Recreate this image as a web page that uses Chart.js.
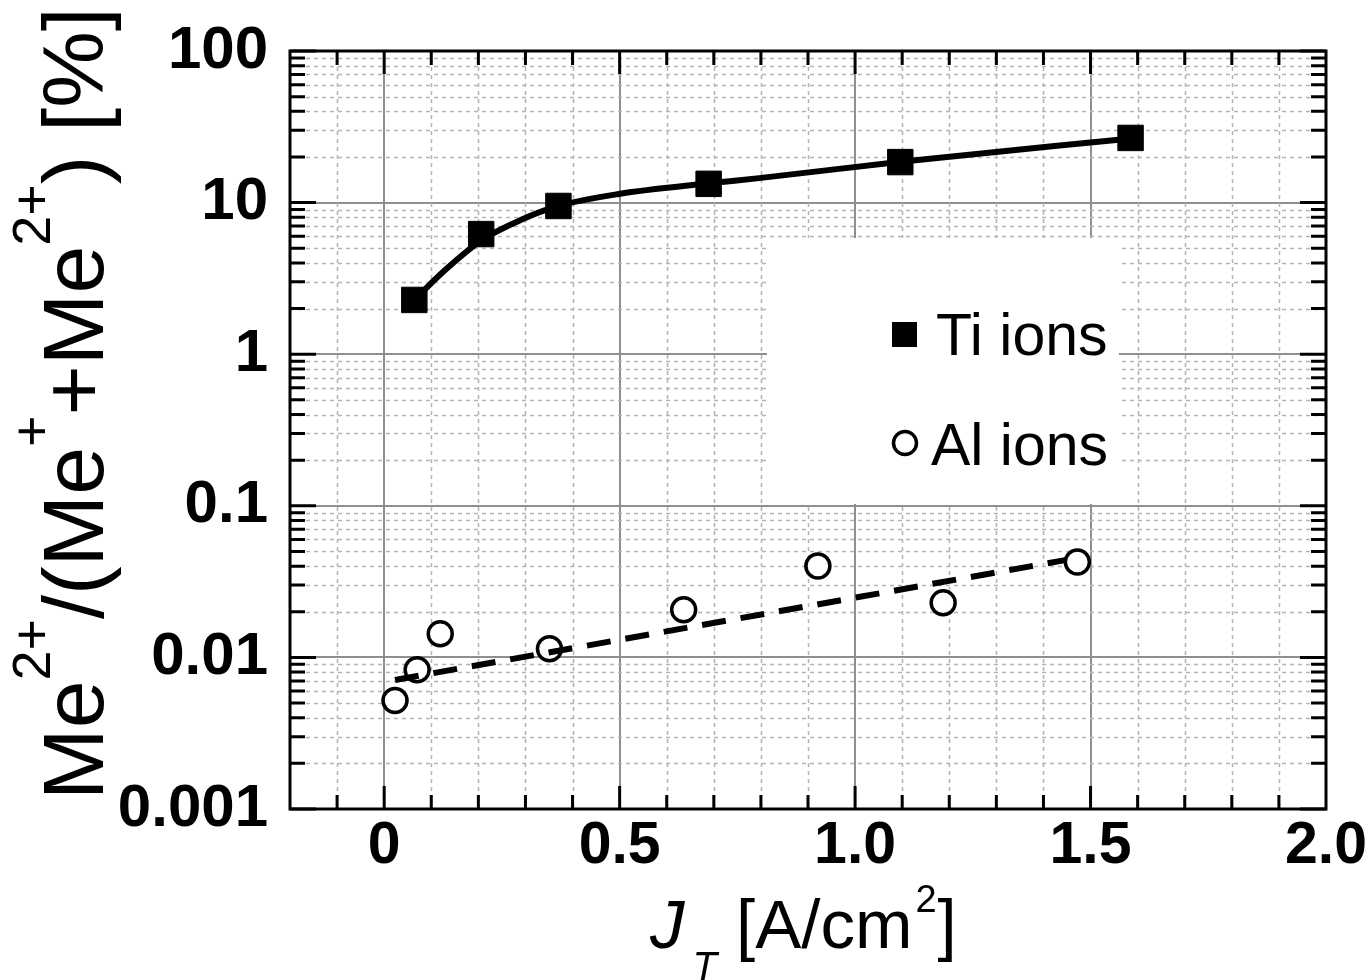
<!DOCTYPE html>
<html>
<head>
<meta charset="utf-8">
<script src="https://cdn.jsdelivr.net/npm/chart.js@4.4.1/dist/chart.umd.min.js"></script>
<style>
  body { margin: 0; background: #fff; }
  canvas { display: block; }
</style>
</head>
<body>
<canvas id="ionChart" width="1371" height="980"></canvas>
<script>
// measured data (J_T in A/cm2, ratio in %)
const tiJ = [0.064, 0.206, 0.370, 0.689, 1.096, 1.585];
const tiRatio = [2.28, 6.2, 9.5, 13.3, 18.5, 26.7];
const alJ = [0.023, 0.070, 0.119, 0.351, 0.636, 0.921, 1.187, 1.472];
const alRatio = [0.0052, 0.0083, 0.0143, 0.0114, 0.0206, 0.0401, 0.0229, 0.0426];

// fit curves
const tiFitJ = [0.064, 0.13, 0.209, 0.291, 0.37, 0.498, 0.689, 0.796, 1.097, 1.587];
const tiFitRatio = [2.28, 3.6, 5.7, 7.7, 9.5, 11.4, 13.4, 14.5, 18.6, 26.5];
const alFitJ = [0.023, 1.449];
const alFitRatio = [0.0071, 0.044];

// axes
const xTicks = [0, 0.5, 1.0, 1.5, 2.0];
const xTickLabels = ['0', '0.5', '1.0', '1.5', '2.0'];
const yTicks = [0.001, 0.01, 0.1, 1, 10, 100];
const yTickLabels = ['0.001', '0.01', '0.1', '1', '10', '100'];
const legendLabels = ['Ti ions', 'Al ions'];

function toPoints(xs, ys) {
    return xs.map((v, i) => ({ x: v, y: ys[i] }));
}

const FONT = "'Liberation Sans', Arial, sans-serif";

// dashed minor grid lines
const minorGrid = {
    id: 'minorGrid',
    beforeDatasetsDraw(chart) {
        const { ctx, chartArea: a, scales: { x, y } } = chart;
        ctx.save();
        ctx.strokeStyle = '#b4b4b4';
        ctx.lineWidth = 1.5;
        ctx.setLineDash([4, 4]);
        ctx.beginPath();
        for (let i = -1; i < 20; i++) {
            if (i % 5 === 0) continue;
            const px = Math.round(x.getPixelForValue(i / 10)) + 0.5;
            ctx.moveTo(px, a.top);
            ctx.lineTo(px, a.bottom);
        }
        for (let d = 0; d < yTicks.length - 1; d++) {
            for (let m = 2; m < 10; m++) {
                const py = Math.round(y.getPixelForValue(m * yTicks[d])) + 0.5;
                ctx.moveTo(a.left, py);
                ctx.lineTo(a.right, py);
            }
        }
        ctx.stroke();
        ctx.restore();
    }
};

// legend box, frame and inward ticks
const frameAndLegend = {
    id: 'frameAndLegend',
    afterDatasetsDraw(chart) {
        const { ctx, chartArea: a, scales: { x, y } } = chart;
        ctx.save();

        // legend
        ctx.fillStyle = '#fff';
        ctx.fillRect(767, 238, 352, 266);
        ctx.fillStyle = '#000';
        ctx.fillRect(892, 322, 25, 25);
        ctx.beginPath();
        ctx.arc(905, 443, 11.5, 0, Math.PI * 2);
        ctx.lineWidth = 3.5;
        ctx.strokeStyle = '#000';
        ctx.stroke();
        ctx.font = '59px ' + FONT;
        ctx.textBaseline = 'alphabetic';
        ctx.textAlign = 'left';
        ctx.fillText(legendLabels[0], 936, 355);
        ctx.fillText(legendLabels[1], 931, 465);

        // frame
        ctx.lineWidth = 3;
        ctx.strokeStyle = '#000';
        ctx.strokeRect(a.left, a.top, a.right - a.left, a.bottom - a.top);

        // ticks
        ctx.beginPath();
        for (let i = -1; i < 20; i++) {
            const px = x.getPixelForValue(i / 10);
            const len = i % 5 === 0 ? 23 : 14;
            ctx.moveTo(px, a.bottom); ctx.lineTo(px, a.bottom - len);
            ctx.moveTo(px, a.top); ctx.lineTo(px, a.top + len);
        }
        for (let d = 0; d < yTicks.length; d++) {
            const py = y.getPixelForValue(yTicks[d]);
            ctx.moveTo(a.left, py); ctx.lineTo(a.left + 26, py);
            ctx.moveTo(a.right, py); ctx.lineTo(a.right - 26, py);
            if (d === yTicks.length - 1) break;
            for (let m = 2; m < 10; m++) {
                const pm = y.getPixelForValue(m * yTicks[d]);
                ctx.moveTo(a.left, pm); ctx.lineTo(a.left + 15, pm);
                ctx.moveTo(a.right, pm); ctx.lineTo(a.right - 15, pm);
            }
        }
        ctx.stroke();
        ctx.restore();
    },
    afterDraw(chart) {
        const ctx = chart.ctx;
        ctx.save();
        ctx.fillStyle = '#000';
        ctx.textBaseline = 'alphabetic';
        ctx.textAlign = 'left';

        // helper: draw a run of text pieces, each with its own font and shift
        function drawRun(pieces) {
            let cx = 0;
            pieces.forEach(p => {
                ctx.font = p.font;
                cx += p.gap || 0;
                ctx.fillText(p.t, cx, p.dy || 0);
                cx += ctx.measureText(p.t).width;
            });
        }

        // y title
        const big = '86px ' + FONT;
        const sup = '54px ' + FONT;
        ctx.save();
        ctx.translate(103, 800);
        ctx.rotate(-Math.PI / 2);
        drawRun([
            { t: 'Me', font: big },
            { t: '2+', font: sup, dy: -53 },
            { t: '/(', font: big },
            { t: 'Me', font: big },
            { t: '+', font: sup, dy: -53 },
            { t: '+', font: big },
            { t: 'Me', font: big },
            { t: '2+', font: sup, dy: -53 },
            { t: ') [%]', font: big }
        ]);
        ctx.restore();

        // x title
        const xf = '69px ' + FONT;
        ctx.save();
        ctx.translate(650, 948);
        drawRun([
            { t: 'J', font: 'italic ' + xf },
            { t: 'T', font: 'italic 40px ' + FONT, dy: 32, gap: 8 },
            { t: ' [A/cm', font: xf },
            { t: '2', font: '38px ' + FONT, dy: -36, gap: 3 },
            { t: ']', font: xf, gap: 1 }
        ]);
        ctx.restore();
        ctx.restore();
    }
};

const ctx = document.getElementById('ionChart').getContext('2d');
const chart = new Chart(ctx, {
    type: 'scatter',
    data: {
        datasets: [
            {
                label: 'Ti fit',
                data: toPoints(tiFitJ, tiFitRatio),
                showLine: true,
                borderColor: '#000',
                borderWidth: 6,
                pointRadius: 0,
                cubicInterpolationMode: 'monotone'
            },
            {
                label: 'Al fit',
                data: toPoints(alFitJ, alFitRatio),
                showLine: true,
                borderColor: '#000',
                borderWidth: 6,
                borderDash: [24, 15],
                pointRadius: 0
            },
            {
                label: legendLabels[0],
                data: toPoints(tiJ, tiRatio),
                pointStyle: 'rect',
                pointRadius: 18,
                backgroundColor: '#000',
                borderColor: '#000',
                borderWidth: 1
            },
            {
                label: legendLabels[1],
                data: toPoints(alJ, alRatio),
                pointStyle: 'circle',
                pointRadius: 12,
                backgroundColor: '#fff',
                borderColor: '#000',
                borderWidth: 3.5
            }
        ]
    },
    options: {
        responsive: false,
        devicePixelRatio: 1,
        animation: false,
        layout: { padding: { top: 51, right: 45, left: 0, bottom: 0 } },
        plugins: {
            legend: { display: false },
            tooltip: { enabled: false }
        },
        scales: {
            x: {
                type: 'linear',
                min: -0.2,
                max: 2.0,
                afterBuildTicks: s => { s.ticks = xTicks.map(v => ({ value: v })); },
                afterFit: s => { s.height = 171; s.paddingLeft = 0; s.paddingRight = 0; },
                ticks: {
                    autoSkip: false,
                    maxRotation: 0,
                    padding: 2,
                    color: '#000',
                    font: { family: FONT, size: 59, weight: 'bold' },
                    callback: (v) => xTickLabels[xTicks.indexOf(v)]
                },
                grid: { color: '#8f8f8f', lineWidth: 2, drawTicks: false },
                border: { display: false }
            },
            y: {
                type: 'logarithmic',
                min: 0.001,
                max: 100,
                afterBuildTicks: s => { s.ticks = yTicks.map(v => ({ value: v })); },
                afterFit: s => { s.width = 290; s.paddingTop = 0; s.paddingBottom = 0; },
                ticks: {
                    autoSkip: false,
                    padding: 22,
                    color: '#000',
                    font: { family: FONT, size: 60, weight: 'bold' },
                    callback: (v) => yTickLabels[yTicks.indexOf(v)]
                },
                grid: { color: '#8f8f8f', lineWidth: 2, drawTicks: false },
                border: { display: false }
            }
        }
    },
    plugins: [minorGrid, frameAndLegend]
});
</script>
</body>
</html>
